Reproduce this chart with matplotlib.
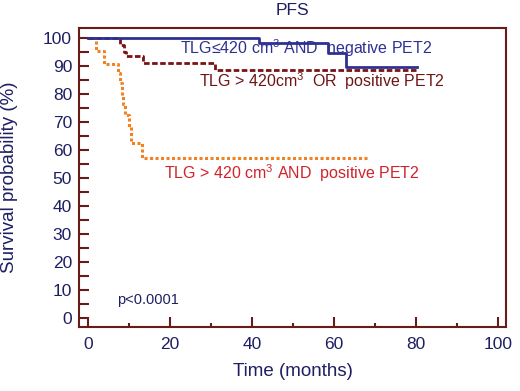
#!/usr/bin/env python3

import numpy as np
import matplotlib
matplotlib.use("Agg")
import matplotlib.pyplot as plt

# Kaplan-Meier curves (months, survival %)
neg_t = [0, 41.6, 58.4, 62.8, 80.3]
neg_s = [100, 98.2, 94.9, 89.8, 89.8]

or_t = [0, 7.8, 8.8, 9.3, 13.4, 31.0, 80.3]
or_s = [100, 97.5, 95.0, 93.5, 91.0, 88.6, 88.6]

pos_t = [0, 2.0, 4.0, 7.2, 7.8, 8.2, 8.6, 9.0, 9.9, 10.4, 13.2, 68.5]
pos_s = [100, 95.5, 90.7, 87.5, 84.0, 79.5, 76.5, 72.5, 68.5, 62.5, 57.3, 57.3]

xticks = [0, 20, 40, 60, 80, 100]
yticks = [0, 10, 20, 30, 40, 50, 60, 70, 80, 90, 100]

NAVY = '#1e1e64'
FRAME = '#6b1a1a'


def main():
	plt.rcParams['font.family'] = ['Liberation Sans', 'DejaVu Sans']
	plt.rcParams['mathtext.fontset'] = 'custom'
	plt.rcParams['mathtext.rm'] = 'Liberation Sans'
	plt.rcParams['mathtext.it'] = 'Liberation Sans'
	plt.rcParams['mathtext.default'] = 'regular'

	fig = plt.figure(figsize=(5.2, 3.91), dpi=100)
	ax = fig.add_axes([0.152, 0.164, 0.821, 0.764])

	ax.step(neg_t, neg_s, where='post', color='#2e3192', lw=2.0, zorder=4)
	ax.step(or_t, or_s, where='post', color='#7a1216', lw=2.0,
			dashes=(2.0, 0.9), zorder=3)
	ax.step(pos_t, pos_s, where='post', color='#f08224', lw=2.2,
			linestyle=(0, (1.0, 0.8)), dash_capstyle='butt', zorder=2)

	ax.set_xlim(-2.2, 101.9)
	ax.set_ylim(-3.0, 103.6)
	ax.set_xticks(xticks)
	ax.set_xticks(np.arange(10, 100, 20), minor=True)
	ax.set_yticks(yticks)
	ax.set_yticks(np.arange(5, 100, 10), minor=True)

	ax.tick_params(which='both', direction='in', color=FRAME, width=1.5,
				   labelcolor=NAVY, labelsize=12.5)
	ax.tick_params(axis='y', which='both', length=7, pad=5)
	ax.tick_params(axis='x', which='major', length=7, pad=7)
	ax.tick_params(axis='x', which='minor', length=3)

	for sp in ax.spines.values():
		sp.set_color(FRAME)
		sp.set_linewidth(1.5)

	fig.text(0.5625, 0.974, 'PFS', color=NAVY, fontsize=12.5,
			 ha='center', va='center')
	fig.text(0.5625, 0.049, 'Time (months)', color=NAVY, fontsize=13.5,
			 ha='center', va='center')
	fig.text(0.018, 0.546, 'Survival probability (%)', color=NAVY,
			 fontsize=13.5, ha='center', va='center', rotation=90)

	ax.text(22.5, 96.6, 'TLG\u2264420 cm$^{3}$ AND  negative PET2',
			color='#2e3192', fontsize=11.5, va='center', ha='left', zorder=3)
	ax.text(27.1, 84.6, 'TLG > 420cm$^{3}$  OR  positive PET2',
			color='#6e1416', fontsize=11.5, va='center', ha='left')
	ax.text(18.4, 52.0, 'TLG > 420 cm$^{3}$ AND  positive PET2',
			color='#d0232a', fontsize=11.5, va='center', ha='left')
	ax.text(7.0, 6.5, 'p<0.0001', color=NAVY, fontsize=10.5, va='center',
			ha='left')

	fig.savefig('out.png', dpi=100)


if __name__ == '__main__':
	main()
